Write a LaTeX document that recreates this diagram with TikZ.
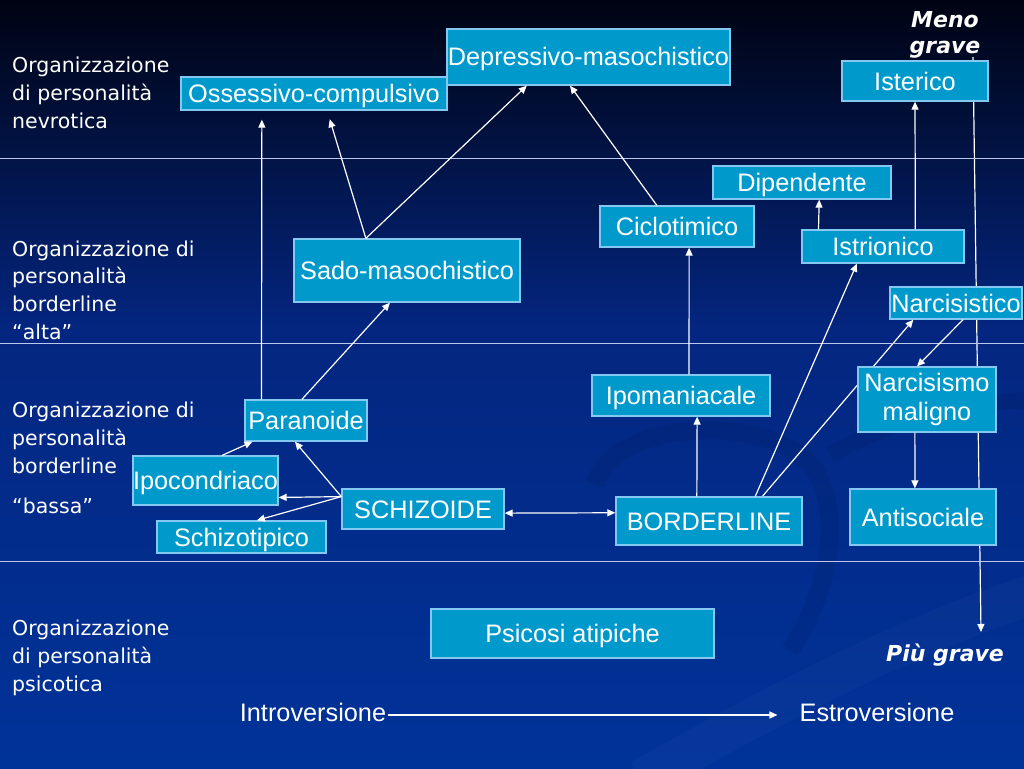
\documentclass[tikz,border=0pt]{standalone}
\usepackage{fontspec}
\setmainfont{Liberation Sans}
\newfontfamily\lvlfont{DejaVu Sans}
\newfontfamily\sevfont{DejaVu Sans Bold Oblique}
\usetikzlibrary{calc,arrows.meta}
\pgfdeclarelayer{bg}
\pgfdeclarelayer{back}
\pgfsetlayers{bg,back,main}
\definecolor{bgtop}{RGB}{0,3,18}
\definecolor{bgmid}{RGB}{4,38,128}
\definecolor{bgbot}{RGB}{0,51,153}
\definecolor{boxfill}{RGB}{0,153,204}
\definecolor{boxline}{RGB}{130,200,240}
\definecolor{rulecol}{RGB}{185,200,235}
\tikzset{
  box/.style={draw=boxline, fill=boxfill, line width=1.3pt, inner sep=0pt, text=white,
    font=\fontsize{25.3}{29}\selectfont, align=center, text height=18pt, text depth=0pt},
  arr/.style={draw=white, line width=1.2pt, ->},
  lvl/.style={text=white, font=\lvlfont\fontsize{20.5}{27.6}\selectfont, align=left,
    inner sep=0pt, anchor=base west},
  sev/.style={text=white, font=\sevfont\fontsize{22}{26}\selectfont, align=center,
    inner sep=0pt, anchor=base},
  axis/.style={text=white, font=\fontsize{25.3}{29}\selectfont, inner sep=2pt},
  >={Triangle[length=8pt,width=7pt]}
}

\begin{document}
\begin{tikzpicture}[x=1pt,y=-1pt]
  \useasboundingbox (0,0) rectangle (1024,768);

  \begin{pgfonlayer}{bg}
    \shade[top color=bgtop, bottom color=bgmid] (0,0) rectangle (1024,330);
    \shade[top color=bgmid, bottom color=bgbot] (0,330) rectangle (1024,768);
    % swirl in the background
    \begin{scope}
      \clip (0,0) rectangle (1024,768);
      \draw[line width=18pt, bgtop, opacity=.07] (595,485) .. controls (610,420) and (770,410) .. (815,470)
        .. controls (845,520) and (825,600) .. (790,650);
      \draw[line width=16pt, bgtop, opacity=.07] (830,455) .. controls (890,420) and (960,405) .. (1024,400);
      \draw[line width=40pt, white, opacity=.025] (640,780) .. controls (800,690) and (900,640) .. (1030,595);
    \end{scope}
  \end{pgfonlayer}

  \foreach \y in {158,343,561}
    \draw[rulecol, line width=1pt] (0,\y) -- (1024,\y);

  % levels
  \node[lvl] (nevr) at (12,128) {Organizzazione\\di personalità\\nevrotica};
  \node[lvl] (alta) at (12,339) {Organizzazione di\\personalità\\borderline\\“alta”};
  \node[lvl] (bassa) at (12,473) {Organizzazione di\\personalità\\borderline};
  \node[lvl] (bassaq) at (12,513) {“bassa”};
  \node[lvl] (psic) at (12,691) {Organizzazione\\di personalità\\psicotica};

  \node[sev] (meno) at (945,54) {Meno\\grave};
  \node[sev] (piu) at (945,661) {Più grave};
  \coordinate (sevtop) at (973,57);
  \coordinate (sevbot) at (981,632);

  % boxes
  \node[box, minimum width=266pt, minimum height=33pt] (osse) at (314,93.5) {Ossessivo-compulsivo};
  \node[box, minimum width=283pt, minimum height=56pt] (depr) at (588.5,57) {Depressivo-masochistico};
  \node[box, minimum width=226pt, minimum height=63pt] (sado) at (407,270.5) {Sado-masochistico};
  \node[box, minimum width=146pt, minimum height=40pt] (ister) at (915,81) {Isterico};
  \node[box, minimum width=178pt, minimum height=33pt] (dipe) at (802,182.5) {Dipendente};
  \node[box, minimum width=154pt, minimum height=41pt] (ciclo) at (677,226.5) {Ciclotimico};
  \node[box, minimum width=162pt, minimum height=33pt] (istri) at (883,246.5) {Istrionico};
  \node[box, minimum width=132pt, minimum height=32pt] (narc) at (956,303) {Narcisistico};
  \node[box, minimum width=138pt, minimum height=65pt, text height=, text depth=] (malig) at (927,399.5) {Narcisismo\\maligno};
  \node[box, minimum width=146pt, minimum height=56pt] (anti) at (923,517) {Antisociale};
  \node[box, minimum width=186pt, minimum height=48pt] (border) at (709,521) {BORDERLINE};
  \node[box, minimum width=178pt, minimum height=41pt] (ipom) at (681,395.5) {Ipomaniacale};
  \node[box, minimum width=283pt, minimum height=49pt] (psico) at (572.5,633.5) {Psicosi atipiche};
  \node[box, minimum width=122pt, minimum height=41pt] (paran) at (306,420.5) {Paranoide};
  \node[box, minimum width=145pt, minimum height=49pt] (ipoc) at (205.5,480.5) {Ipocondriaco};
  \node[box, minimum width=162pt, minimum height=40pt] (schiz) at (423,509) {SCHIZOIDE};
  \node[box, minimum width=169pt, minimum height=32pt] (schtip) at (241.5,537) {Schizotipico};

  \node[axis] (intro) at (313,712) {Introversione};
  \node[axis] (estro) at (877,712) {Estroversione};

  % lines running behind the boxes
  \begin{pgfonlayer}{back}
    \draw[arr] (sevtop) -- (sevbot);
    \draw[arr] ($(border.north west)!.785!(border.north east)$) -- ($(narc.south west)!.18!(narc.south east)$);
  \end{pgfonlayer}

  \draw[arr, shorten >=9pt] ($(paran.north west)!.139!(paran.north east)$) -- ($(osse.south west)!.305!(osse.south east)$);
  \draw[arr, shorten >=9pt] ($(sado.north west)!.319!(sado.north east)$) -- ($(osse.south west)!.549!(osse.south east)$);
  \draw[arr] ($(sado.north west)!.319!(sado.north east)$) -- ($(depr.south west)!.283!(depr.south east)$);
  \draw[arr] ($(ciclo.north west)!.37!(ciclo.north east)$) -- ($(depr.south west)!.435!(depr.south east)$);
  \draw[arr] ($(paran.north west)!.467!(paran.north east)$) -- ($(sado.south west)!.425!(sado.south east)$);
  \draw[arr] ($(ipoc.north west)!.614!(ipoc.north east)$) -- ($(paran.south west)!.066!(paran.south east)$);
  \draw[arr] ($(schiz.north west)!.2!(schiz.south west)$) -- ($(paran.south west)!.41!(paran.south east)$);
  \draw[arr] ($(schiz.north west)!.2!(schiz.south west)$) -- ($(ipoc.north east)!.837!(ipoc.south east)$);
  \draw[arr] ($(schiz.north west)!.2!(schiz.south west)$) -- ($(schtip.north west)!.59!(schtip.north east)$);
  \draw[arr, <->] ($(schiz.north east)!.6!(schiz.south east)$) -- ($(border.north west)!.333!(border.south west)$);
  \draw[arr] ($(border.north west)!.435!(border.north east)$) -- ($(ipom.south west)!.59!(ipom.south east)$);
  \draw[arr] ($(ipom.north west)!.545!(ipom.north east)$) -- ($(ciclo.south west)!.578!(ciclo.south east)$);
  \draw[arr] ($(border.north west)!.747!(border.north east)$) -- ($(istri.south west)!.34!(istri.south east)$);
  \draw[arr] ($(narc.south west)!.553!(narc.south east)$) -- ($(malig.north west)!.428!(malig.north east)$);
  \draw[arr] ($(malig.south west)!.413!(malig.south east)$) -- ($(anti.north west)!.445!(anti.north east)$);
  \draw[arr] ($(istri.north west)!.105!(istri.north east)$) -- ($(dipe.south west)!.596!(dipe.south east)$);
  \draw[arr] ($(istri.north west)!.698!(istri.north east)$) -- (ister.south);
  \draw[arr, shorten >=20pt] ([yshift=-3pt]intro.east) -- ([yshift=-3pt]estro.west);

\end{tikzpicture}
\end{document}
